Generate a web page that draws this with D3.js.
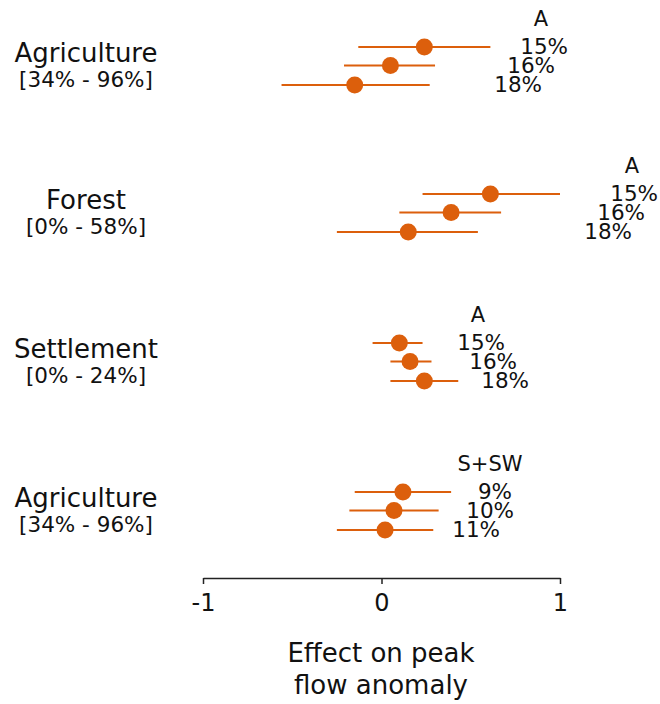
<!DOCTYPE html>
<html><head><meta charset="utf-8">
<script src="https://cdn.jsdelivr.net/npm/d3@7"></script>
<style>body{margin:0;background:#fff}text{font-family:"DejaVu Sans",Verdana,sans-serif;fill:#111}</style>
</head><body><svg id="c" width="660" height="704"></svg>
<script>
const groupNames = ["Agriculture","Forest","Settlement","Agriculture"];
const groupRanges = ["[34% - 96%]","[0% - 58%]","[0% - 24%]","[34% - 96%]"];
const groupTags = ["A","A","A","S+SW"];
const rowLabels = [["15%","16%","18%"],["15%","16%","18%"],["15%","16%","18%"],["9%","10%","11%"]];
const estimates = [[0.24,0.05,-0.15],[0.61,0.39,0.15],[0.10,0.16,0.24],[0.12,0.07,0.02]];
const lower = [[-0.13,-0.21,-0.56],[0.23,0.10,-0.25],[-0.05,0.05,0.05],[-0.15,-0.18,-0.25]];
const upper = [[0.61,0.30,0.27],[1.00,0.67,0.54],[0.23,0.28,0.43],[0.39,0.32,0.29]];
const tickVals = [-1,0,1];

// layout
const groupY = [47,194,343,492], rowGap = [0,18.5,38];
const labelEnd = [[568,555,542],[658,645,632],[505,517,529],[512,514,500]];
const tagX = [541,632,478,490];
const nameX = 86;
const col = "#dc5f0c";
const svg = d3.select("#c");
const x = d3.scaleLinear().domain([-1,1]).range([203,560]);

groupNames.forEach((g,i)=>{
  svg.append("text").attr("x",nameX).attr("y",groupY[i]+15).attr("text-anchor","middle").style("font-size","26px").text(g);
  svg.append("text").attr("x",nameX).attr("y",groupY[i]+40).attr("text-anchor","middle").style("font-size","21.5px").text(groupRanges[i]);
  svg.append("text").attr("x",tagX[i]).attr("y",groupY[i]-21).attr("text-anchor","middle").style("font-size","21px").text(groupTags[i]);
  estimates[i].forEach((e,j)=>{
    const y = groupY[i]+rowGap[j];
    svg.append("line").attr("x1",x(lower[i][j])).attr("x2",x(upper[i][j])).attr("y1",y).attr("y2",y).attr("stroke",col).attr("stroke-width",2);
    svg.append("circle").attr("cx",x(e)).attr("cy",y).attr("r",8.5).attr("fill",col);
    svg.append("text").attr("x",labelEnd[i][j]).attr("y",y+7).attr("text-anchor","end").style("font-size","21.5px").text(rowLabels[i][j]);
  });
});

const ax = svg.append("g").attr("transform","translate(0,578)")
  .call(d3.axisBottom(x).tickValues(tickVals).tickSize(6).tickSizeOuter(0).tickPadding(10).tickFormat(d3.format("d")));
ax.select(".domain").attr("stroke","#222").attr("stroke-width",1.5);
ax.selectAll(".tick line").attr("stroke","#222").attr("stroke-width",1.5);
ax.selectAll(".tick text").style("font-size","24px").style("font-family","DejaVu Sans").attr("fill","#111");
ax.selectAll(".tick text").text(d=>d<0?"-"+Math.abs(d):d);

svg.append("text").attr("x",381).attr("y",662).attr("text-anchor","middle").style("font-size","26px").text("Effect on peak");
svg.append("text").attr("x",381).attr("y",694).attr("text-anchor","middle").style("font-size","26px").text("flow anomaly");
</script></body></html>
